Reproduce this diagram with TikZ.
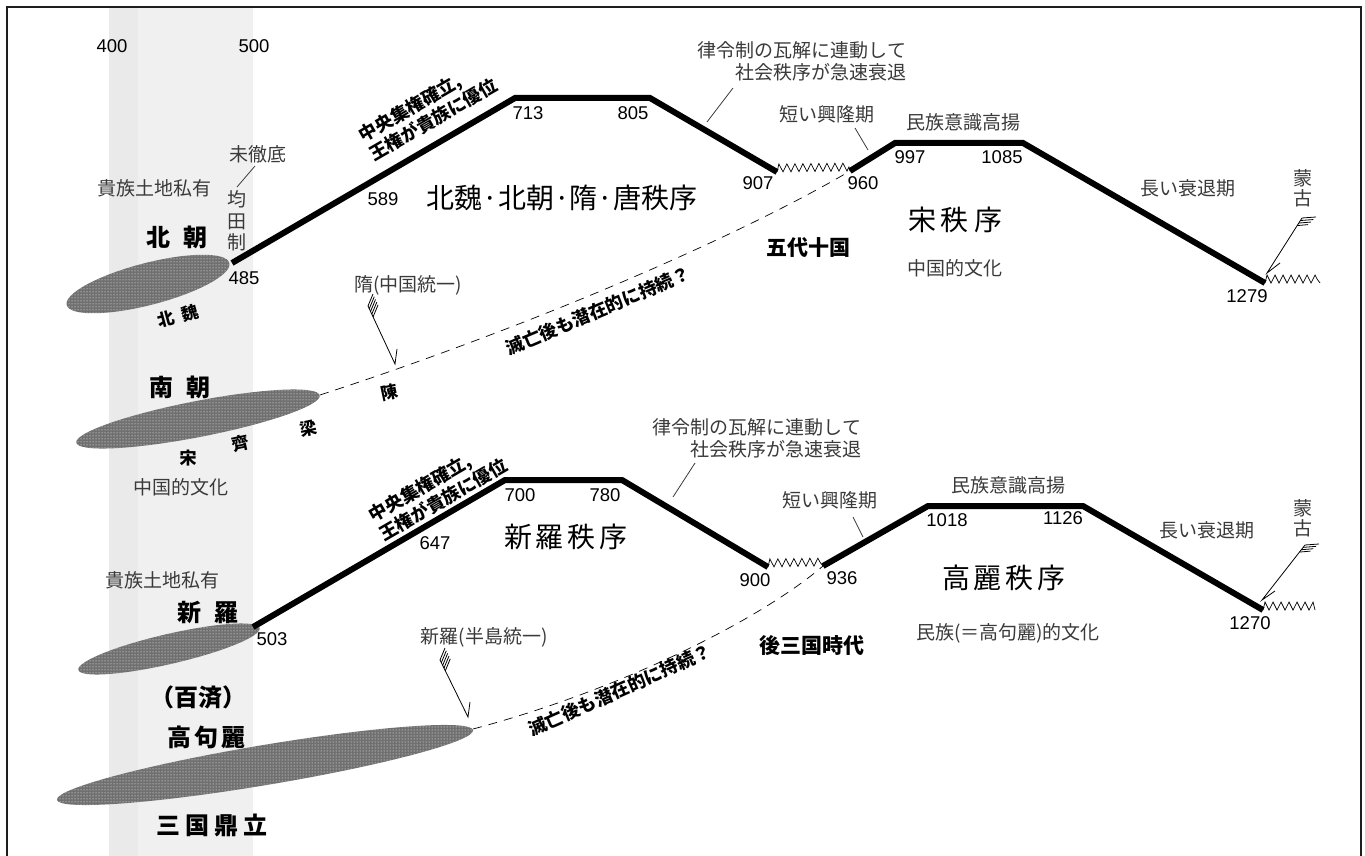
\documentclass[tikz,border=0pt]{standalone}
\usepackage{fontspec}
\setmainfont{Liberation Sans}
\newfontfamily\jp{Noto Sans CJK JP}
\usetikzlibrary{patterns,decorations.pathmorphing,calc}
\definecolor{lblgray}{HTML}{3A3A3A}
\definecolor{bandA}{HTML}{EAEAEA}
\definecolor{bandB}{HTML}{F0F0F0}
\definecolor{blobgray}{HTML}{707070}
\definecolor{framec}{HTML}{1E1E1E}
\tikzset{
  lbl/.style={font=\jp\fontsize{19}{22}\selectfont, text=lblgray, inner sep=0pt},
  num/.style={font=\fontsize{18.5}{20}\selectfont, inner sep=0pt},
  big/.style={font=\jp\fontsize{28}{30}\selectfont, inner sep=0pt},
  era/.style={font=\jp\bfseries\fontsize{17}{19}\selectfont, inner sep=0pt},
  bld/.style={font=\jp\bfseries\fontsize{18}{21}\selectfont, inner sep=0pt},
  med/.style={font=\jp\bfseries\fontsize{21}{23}\selectfont, inner sep=0pt},
  ctry/.style={font=\jp\bfseries\fontsize{24}{26}\selectfont, inner sep=0pt},
  trend/.style={line width=6pt, line join=miter},
  leader/.style={line width=0.8pt, draw=lblgray},
  zz/.style={decorate, decoration={zigzag, segment length=8pt, amplitude=4pt, raise=4pt}, line width=0.7pt},
  blob/.style={fill=blobgray, postaction={pattern=dots, pattern color=white}},
  shaft/.style={line width=0.8pt},
  dsh/.style={line width=0.7pt, dash pattern=on 9pt off 7pt},
}
\begin{document}
\begin{tikzpicture}[x=1pt,y=-1pt]
\useasboundingbox (0,0) rectangle (1365,856);
\clip (0,0) rectangle (1365,856);
% background band
\fill[bandB] (109,7) rectangle (253,870);
\fill[bandA] (109,7) rectangle (138,870);
% frame
\draw[line width=2pt, draw=framec] (7,7) rectangle (1361,900);

% ---------- ellipses ----------
\fill[blob, rotate around={14.5:(148,284)}] (148,284) ellipse [x radius=84, y radius=21];
\fill[blob, rotate around={11:(198,419)}] (198,419) ellipse [x radius=124, y radius=18];
\fill[blob, rotate around={13:(169,649)}] (169,649) ellipse [x radius=93, y radius=15];
\fill[blob, rotate around={9.5:(265,765)}] (265,765) ellipse [x radius=211, y radius=20];

% ---------- upper trend (China) ----------
\coordinate (c485) at (232,263);
\coordinate (c713) at (515,98);
\coordinate (c805) at (650,98);
\coordinate (c907) at (777,172);
\coordinate (c960) at (850,171);
\coordinate (c997) at (895,143);
\coordinate (c1085) at (1023,143);
\coordinate (c1279) at (1265,283);
\coordinate (cend) at (1320,283);
\draw[trend] (c485) -- (c713) -- (c805) -- (c907);
\draw[trend] (c960) -- (c997) -- (c1085) -- (c1279);
\draw[zz] (c907) -- (c960);
\draw[zz] (c1279) -- (cend);

% ---------- lower trend (Korea) ----------
\coordinate (k503) at (253,627);
\coordinate (k700) at (505,480);
\coordinate (k780) at (622,480);
\coordinate (k900) at (768,567);
\coordinate (k936) at (823,566);
\coordinate (k1018) at (928,506);
\coordinate (k1126) at (1083,506);
\coordinate (k1270) at (1263,610);
\coordinate (kend) at (1315,610);
\draw[trend] (k503) -- (k700) -- (k780) -- (k900);
\draw[trend] (k936) -- (k1018) -- (k1126) -- (k1270);
\draw[zz] (k900) -- (k936);
\draw[zz] (k1270) -- (kend);

% ---------- dashed continuations ----------
\coordinate (nanend) at (320,395);
\coordinate (kogend) at (473,729);
\draw[dsh] (nanend) .. controls (550,320) and (750,230) .. (c960);
\draw[dsh] (kogend) .. controls (620,690) and (760,620) .. (k936);

% ---------- upper labels ----------
\node[num] (n400) at (112,46) {400};
\node[num] (n500) at (254,46) {500};
\node[lbl] (mitettei) at (258,154) {未徹底};
\coordinate (mt1) at (255,166);
\coordinate (mt2) at (237,187);
\draw[leader] (mt1) -- (mt2);
\node[lbl] (kizoku1) at (154,188) {貴族土地私有};
\node[lbl, align=center, font=\jp\fontsize{19}{21.5}\selectfont] (kinden) at (237,221) {均\\田\\制};
\node[ctry] (hokucho) at (177,237) {北\hspace{13pt}朝};
\node[num] (n485) at (244,278) {485};
\node[num] (n589) at (383,199) {589};
\node[bld, rotate=30, align=left] (chuo1) at (428,110) {中央集権確立,\\王権が貴族に優位};
\node[num] (n713) at (528,113) {713};
\node[num] (n805) at (633,113) {805};
\node[num] (n907) at (758,183) {907};
\node[num] (n960) at (863,183) {960};
\node[big] (tang) at (562,198) {北魏·北朝·隋·唐秩序};
\node[lbl, align=right] (ritsu1) at (802,61) {律令制の瓦解に連動して\\社会秩序が急速衰退};
\coordinate (r1a) at (733,88);
\coordinate (r1b) at (707,122);
\draw[leader] (r1a) -- (r1b);
\node[lbl] (koryu1) at (827,114) {短い興隆期};
\coordinate (k1a) at (855,128);
\coordinate (k1b) at (868,150);
\draw[leader] (k1a) -- (k1b);
\node[lbl] (minzoku1) at (963,122) {民族意識高揚};
\node[num] (n997) at (910,157) {997};
\node[num] (n1085) at (1002,157) {1085};
\node[big] (song) at (955,220) {宋\hspace{5pt}秩\hspace{5pt}序};
\node[lbl] (chubun1) at (955,268) {中国的文化};
\node[med] (godai) at (808,248) {五代十国};
\node[lbl] (nagai1) at (1188,188) {長い衰退期};
\node[lbl, align=center, font=\jp\fontsize{19}{20}\selectfont] (moko1) at (1303,188) {蒙\\古};
\node[num] (n1279) at (1247,296) {1279};
% Mongol arrow 1
\coordinate (m1top) at (1302,218);
\coordinate (m1tip) at (1267,273);
\coordinate (m1barb) at (1280,263);
\draw[shaft] (m1top) -- (m1tip) -- (m1barb);
\foreach \s/\l in {0/14,3/13,6/12,9/11}
  \draw[shaft] ($(m1top)!\s pt!(m1tip)$) -- ++(\l,-1);

% Sui
\node[lbl] (sui) at (408,285) {隋(中国統一)};
\coordinate (s1top) at (368,306);
\coordinate (s1tip) at (395,364);
\coordinate (s1barb) at (397,349);
\draw[shaft] (s1top) -- (s1tip) -- (s1barb);
\foreach \s in {0,3,6,9,12}
  \draw[shaft] ($(s1top)!\s pt!(s1tip)$) -- ++(5,-12);
\node[bld, rotate=23] (metsu1) at (598,311) {滅亡後も潜在的に持続？};

% dynasties
\node[era, rotate=15] (hokugi) at (178,316) {北\hspace{8pt}魏};
\node[ctry] (nancho) at (180,387) {南\hspace{13pt}朝};
\node[era, rotate=12] (chen) at (389,392) {陳};
\node[era, rotate=12] (liang) at (308,428) {梁};
\node[era, rotate=12] (qi) at (240,444) {齊};
\node[era] (song2) at (188,458) {宋};
\node[lbl] (chubun2) at (181,487) {中国的文化};

% ---------- lower labels ----------
\node[lbl] (kizoku2) at (162,580) {貴族土地私有};
\node[ctry] (shiragi) at (208,613) {新\hspace{13pt}羅};
\node[num] (n503) at (272,639) {503};
\node[bld, rotate=30, align=left] (chuo2) at (438,490) {中央集権確立,\\王権が貴族に優位};
\node[num] (n647) at (435,543) {647};
\node[num] (n700) at (520,495) {700};
\node[num] (n780) at (605,495) {780};
\node[big] (silla) at (566,537) {新\hspace{4pt}羅\hspace{4pt}秩\hspace{4pt}序};
\node[lbl, align=right] (ritsu2) at (757,438) {律令制の瓦解に連動して\\社会秩序が急速衰退};
\coordinate (r2a) at (695,463);
\coordinate (r2b) at (673,497);
\draw[leader] (r2a) -- (r2b);
\node[num] (n900) at (755,580) {900};
\node[num] (n936) at (842,578) {936};
\node[lbl] (koryu2) at (830,500) {短い興隆期};
\coordinate (k2a) at (853,517);
\coordinate (k2b) at (863,537);
\draw[leader] (k2a) -- (k2b);
\node[lbl] (minzoku2) at (1008,485) {民族意識高揚};
\node[num] (n1018) at (947,520) {1018};
\node[num] (n1126) at (1063,518) {1126};
\node[lbl] (nagai2) at (1207,530) {長い衰退期};
\node[lbl, align=center, font=\jp\fontsize{19}{20}\selectfont] (moko2) at (1303,518) {蒙\\古};
\node[big] (goryeo) at (1004,578) {高\hspace{4pt}麗\hspace{4pt}秩\hspace{4pt}序};
\node[lbl] (minbun) at (1008,633) {民族(＝高句麗)的文化};
\node[num] (n1270) at (1250,623) {1270};
% Mongol arrow 2
\coordinate (m2top) at (1305,545);
\coordinate (m2tip) at (1262,600);
\coordinate (m2barb) at (1275,591);
\draw[shaft] (m2top) -- (m2tip) -- (m2barb);
\foreach \s/\l in {0/14,3/13,6/12,9/11}
  \draw[shaft] ($(m2top)!\s pt!(m2tip)$) -- ++(\l,-1);

\node[med] (gosan) at (812,646) {後三国時代};
\node[lbl] (shiragi2) at (484,637) {新羅(半島統一)};
\coordinate (s2top) at (440,660);
\coordinate (s2tip) at (468,717);
\coordinate (s2barb) at (470,702);
\draw[shaft] (s2top) -- (s2tip) -- (s2barb);
\foreach \s in {0,3,6,9,12}
  \draw[shaft] ($(s2top)!\s pt!(s2tip)$) -- ++(5,-12);
\node[bld, rotate=24] (metsu2) at (620,690) {滅亡後も潜在的に持続？};

\node[ctry] (kudara) at (198,697) {（百済）};
\node[ctry] (koguryo) at (206,737) {高\hspace{3pt}句\hspace{3pt}麗};
\node[ctry] (sangoku) at (212,825) {三\hspace{5pt}国\hspace{5pt}鼎\hspace{5pt}立};
\end{tikzpicture}
\end{document}
